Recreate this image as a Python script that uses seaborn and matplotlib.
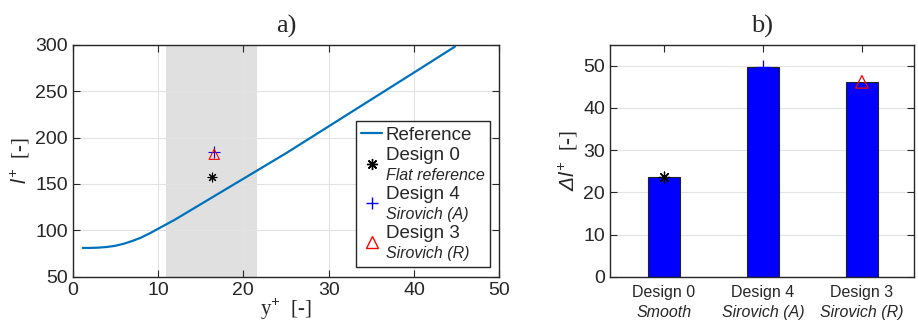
import numpy as np
import pandas as pd
import matplotlib
matplotlib.use("Agg")
import matplotlib.pyplot as plt
import seaborn as sns
from matplotlib.lines import Line2D
from matplotlib.legend_handler import HandlerLine2D

# curve values read off panel a)
y_plus = [1.2, 2, 3, 4, 5, 6, 7, 8, 9, 10, 11, 12, 13, 14, 15, 16, 17, 18,
          20, 22, 25, 30, 35, 40, 44.8]
l_plus = [81, 81, 81.3, 82, 83.3, 85.5, 88.5, 92, 96.5, 101.5, 106.5, 111.5, 117,
          122.5, 128, 133.5, 139, 144.5, 155.5, 166.5, 183, 212, 241, 270, 298]

# design points in panel a)
design_names = ["Design 0", "Design 4", "Design 3"]
design_sub_a = ["Flat reference", "Sirovich (A)", "Sirovich (R)"]
design_y = [16.3, 16.6, 16.6]
design_l = [157.5, 184, 182]

# bar values in panel b)
design_sub_b = ["Smooth", "Sirovich (A)", "Sirovich (R)"]
delta_l = [23.7, 49.8, 46.2]

shade_lo, shade_hi = 11.0, 21.6


class ShiftedHandler(HandlerLine2D):
    # draws the legend marker half a row lower, between the two text lines
    def __init__(self, shift, **kw):
        super().__init__(**kw)
        self.shift = shift

    def create_artists(self, legend, orig_handle, xdescent, ydescent, width, height, fontsize, trans):
        return super().create_artists(legend, orig_handle, xdescent, ydescent + self.shift,
                                      width, height, fontsize, trans)


sns.set_style("ticks")
plt.rcParams["font.family"] = ["Liberation Sans", "DejaVu Sans"]
plt.rcParams["mathtext.fontset"] = "custom"
plt.rcParams["mathtext.it"] = "Liberation Sans:italic"
plt.rcParams["mathtext.rm"] = "Liberation Sans:italic"

fig = plt.figure(figsize=(9.18, 3.24), dpi=100)
ax1 = fig.add_axes([0.079, 0.146, 0.465, 0.716])
ax2 = fig.add_axes([0.6645, 0.146, 0.331, 0.716])

markers = [(8, 2, 0), "+", "^"]
colors = ["black", "blue", "red"]
sizes = [40, 70, 55]

# ---- panel a)
ax1.axvspan(shade_lo, shade_hi, color="#e0e0e0", lw=0, zorder=0)
ax1.grid(True, color="#e3e3e3", lw=0.8, zorder=0)
sns.lineplot(x=y_plus, y=l_plus, ax=ax1, color="#0072BD", lw=1.6, zorder=3)
for i in range(3):
    face = "none" if markers[i] == "^" else colors[i]
    ax1.scatter(design_y[i], design_l[i], marker=markers[i], s=sizes[i],
                facecolors=face, edgecolors=colors[i], linewidths=0.8, zorder=4)
ax1.set_xlim(0, 50)
ax1.set_ylim(50, 300)
ax1.set_xticks(range(0, 51, 10))
ax1.set_yticks(range(50, 301, 50))
ax1.tick_params(direction="in", top=True, right=True, labelsize=14, length=5)
ax1.set_xlabel("y$^{+}$  [-]", family="Liberation Serif", fontsize=15, labelpad=-1)
ax1.set_ylabel("$l^{+}$  [-]", family="Liberation Serif", fontsize=15, labelpad=2)
ax1.set_title("a)", family="Liberation Serif", fontsize=19, pad=9)

# legend: main line + italic subtitle rows
handles = [Line2D([], [], color="#0072BD", lw=1.6)]
labels = ["Reference"]
hmap = {}
for i in range(3):
    h = Line2D([], [], ls="none", marker=markers[i], color=colors[i], markersize=8,
               markerfacecolor="none" if markers[i] == "^" else colors[i], markeredgewidth=1.0)
    hmap[h] = ShiftedHandler(15)
    handles += [h, Line2D([], [], ls="none")]
    labels += [design_names[i], design_sub_a[i]]
leg = ax1.legend(handles, labels, handler_map=hmap, loc="lower right",
                 bbox_to_anchor=(0.978, 0.042), fontsize=13.5,
                 frameon=True, fancybox=False, edgecolor="#262626", framealpha=1,
                 handlelength=1.1, handletextpad=0.2, borderpad=0.3, labelspacing=0.16,
                 borderaxespad=0)
leg.get_frame().set_linewidth(1.0)
for j, t in enumerate(leg.get_texts()):
    if j in (2, 4, 6):
        t.set_fontsize(11.5)
        t.set_style("italic")

# ---- panel b)
df = pd.DataFrame({"design": design_names, "dl": delta_l})
ax2.grid(True, color="#e3e3e3", lw=0.8, zorder=0)
ax2.set_axisbelow(True)
sns.barplot(data=df, x="design", y="dl", ax=ax2, color="#0000FF", width=0.33,
            edgecolor="#222222", linewidth=0.8, saturation=1, zorder=2)
for i in range(3):
    face = "none" if markers[i] == "^" else colors[i]
    ax2.scatter(i, delta_l[i], marker=markers[i], s=sizes[i] * 1.5,
                facecolors=face, edgecolors=colors[i], linewidths=0.9, zorder=4)
ax2.set_xlim(-0.545, 2.525)
ax2.set_ylim(0, 55)
ax2.set_yticks(range(0, 51, 10))
ax2.set_xticks(range(3))
ax2.set_xticklabels(design_names, fontsize=11.5)
for i in range(3):
    ax2.text(i, -0.12, design_sub_b[i], transform=ax2.get_xaxis_transform(),
             ha="center", va="top", fontsize=11.5, style="italic")
ax2.tick_params(axis="y", direction="in", right=True, labelsize=14, length=5)
ax2.tick_params(axis="x", direction="in", top=True, length=5, pad=6)
ax2.set_xlabel("")
ax2.set_ylabel("$\\Delta l^{+}$  [-]", family="Liberation Serif", fontsize=15, labelpad=2)
ax2.set_title("b)", family="Liberation Serif", fontsize=19, pad=9)

for ax in (ax1, ax2):
    for sp in ax.spines.values():
        sp.set_color("#262626")
        sp.set_linewidth(1.0)

fig.savefig("out.png", dpi=100)
